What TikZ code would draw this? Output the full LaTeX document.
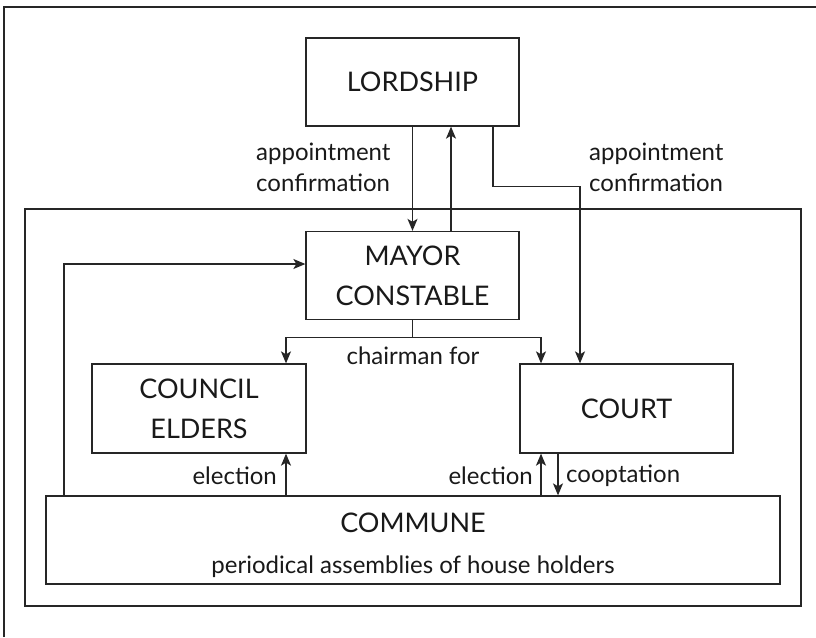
\documentclass[tikz,border=0pt]{standalone}
\usepackage{fontspec}
\setmainfont{Lato}
\usetikzlibrary{arrows.meta}
\begin{document}
\begin{tikzpicture}[x=1pt,y=-1pt,
  box/.style={draw=black!85,line width=1.3pt,minimum width=213pt,minimum height=88pt,inner sep=0pt,align=center,font=\fontsize{27}{40}\selectfont,text=black!90},
  lbl/.style={inner sep=0pt,align=left,font=\fontsize{24}{31}\selectfont,text=black!90},
  arr/.style={draw=black!85,line width=1.3pt,-{Stealth[length=12pt,width=10pt,inset=3pt]}},
  ln/.style={draw=black!85,line width=1.3pt}]
\useasboundingbox (0,0) rectangle (816,637);
\fill[white] (0,0) rectangle (816,637);
% outer partial frame
\draw[line width=2.6pt,black!85] (4,637) -- (4,7) -- (816,7);
% inner frame
\draw[ln] (25,209) rectangle (801,606);
% boxes
\node[box] (L) at (412.5,82) {LORDSHIP};
\node[box] (M) at (412.5,275.5) {MAYOR\\CONSTABLE};
\node[box,minimum width=214pt,minimum height=89pt] (Co) at (199,408.5) {COUNCIL\\ELDERS};
\node[box,minimum height=89pt] (Ct) at (626.5,408.5) {COURT};
\node[box,minimum width=734pt,minimum height=88pt,font=\fontsize{24}{40}\selectfont] (Cm) at (413,540) {\rule{0pt}{30pt}{\fontsize{27}{30}\selectfont COMMUNE}\\[1pt]periodical assemblies of house holders};
% connectors
\draw[arr] (L.south) -- (M.north);
\draw[arr] ([xshift=38.5pt]M.north) -- ([xshift=38.5pt]L.south);
\draw[arr] ([xshift=80.5pt]L.south) -- ++(0,60) -| ([xshift=-46.5pt]Ct.north);
\draw[arr] (M.south) -- ++(0,17) -| ([xshift=87pt]Co.north);
\draw[arr] (M.south) -- ++(0,17) -| ([xshift=-85.5pt]Ct.north);
\draw[arr] ([xshift=-349pt]Cm.north) |- ([yshift=11.5pt]M.west);
\draw[arr] ([xshift=-127pt]Cm.north) -- ([xshift=87pt]Co.south);
\draw[arr] ([xshift=128pt]Cm.north) -- ([xshift=-85.5pt]Ct.south);
\draw[arr] ([xshift=-68.5pt]Ct.south) -- ([xshift=145pt]Cm.north);
% labels
\node[lbl,anchor=west] (la1) at (256,167) {appointment\\confirmation};
\node[lbl,anchor=west] (la2) at (589,167) {appointment\\confirmation};
\node[lbl] (lc) at (413,356) {chairman for};
\node[lbl,anchor=east] (le1) at (277,476) {election};
\node[lbl,anchor=east] (le2) at (533,476) {election};
\node[lbl,anchor=west] (lco) at (566,476) {cooptation};
\end{tikzpicture}
\end{document}
